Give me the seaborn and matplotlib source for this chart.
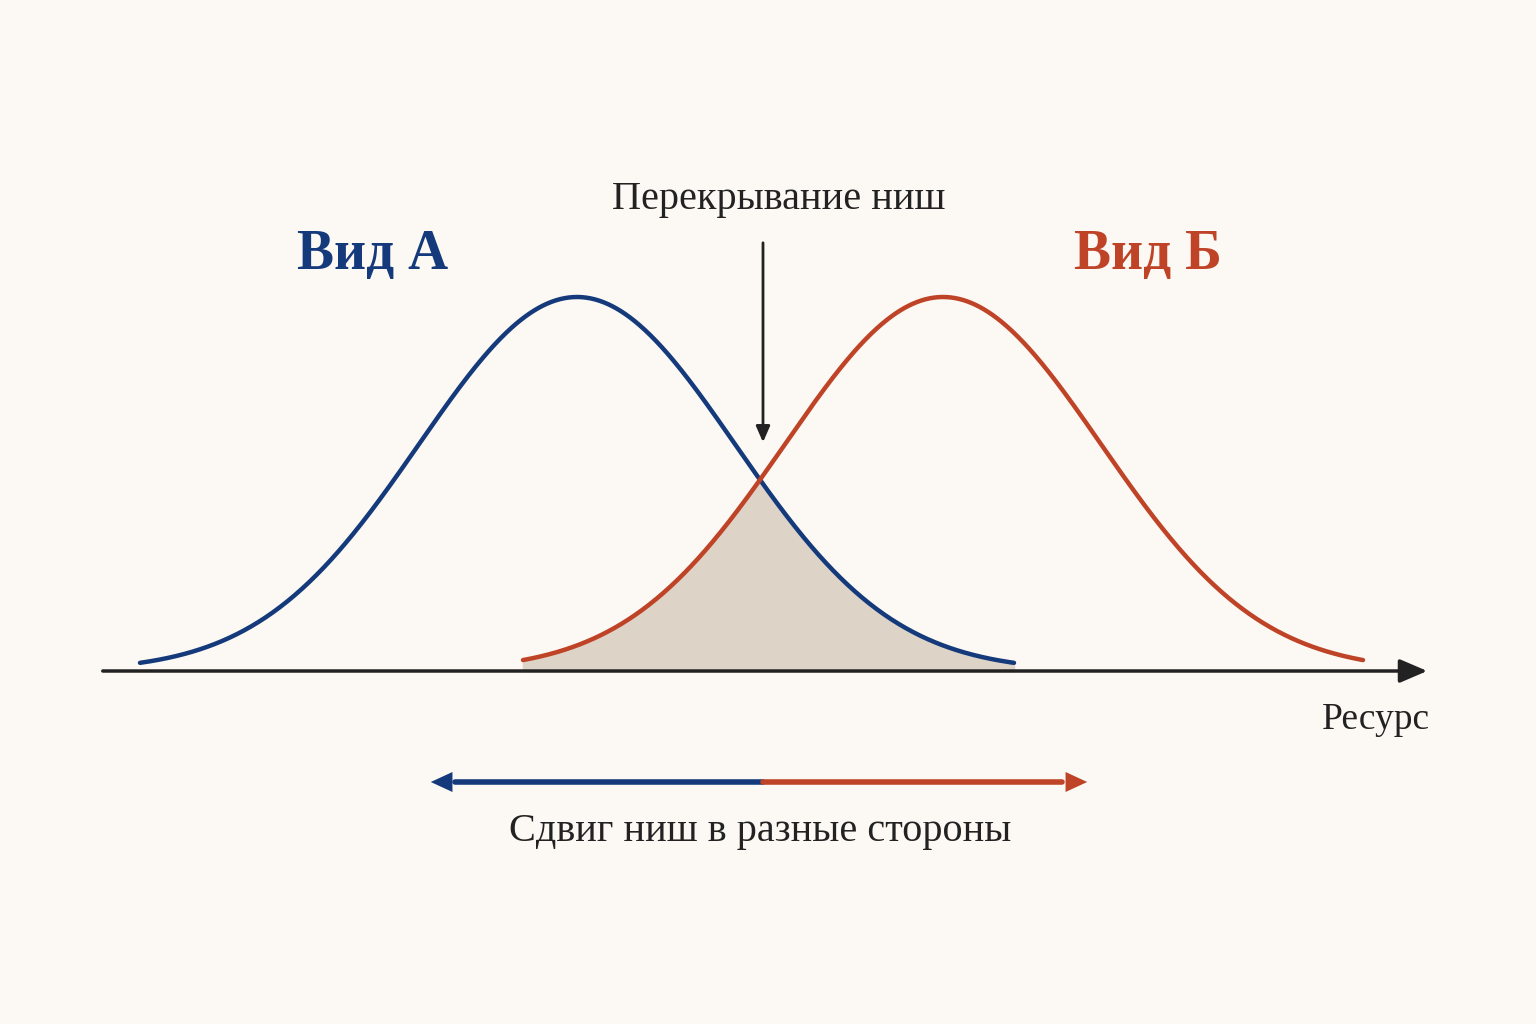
import numpy as np
import matplotlib
matplotlib.use("Agg")
import matplotlib.pyplot as plt
import seaborn as sns
import pandas as pd

sns.set_theme(style="white")
plt.rcParams['font.family'] = ['Liberation Serif', 'DejaVu Serif']

# Niche parameters (in pixel-like resource units)
species = ["Вид А", "Вид Б"]
centers = [577, 943]
sigmas = [158, 158]
peak_heights = [374, 374]
half_spans = [437, 420]
colors = ["#143a7c", "#bf4327"]
baseline = 671
bg = "#fcf8f3"

fig = plt.figure(figsize=(15.36, 10.24), dpi=100, facecolor=bg)
ax = fig.add_axes([0, 0, 1, 1])
ax.set_facecolor(bg)
ax.set_xlim(0, 1536)
ax.set_ylim(1024, 0)
ax.axis("off")

curves = []
for name, c, s, h, hs, col in zip(species, centers, sigmas, peak_heights, half_spans, colors):
    x = np.linspace(c - hs, c + hs, 600)
    y = baseline - h * np.exp(-(x - c) ** 2 / (2 * s ** 2))
    curves.append((x, y))
    sns.lineplot(x=x, y=y, ax=ax, color=col, lw=3.2, sort=False, estimator=None)

# overlap
xs = np.linspace(curves[1][0][0], curves[0][0][-1], 600)
ya = np.interp(xs, curves[0][0], curves[0][1])
yb = np.interp(xs, curves[1][0], curves[1][1])
ax.fill_between(xs, baseline, np.maximum(ya, yb), color="#ddd3c7", zorder=1)

# axis
ax.annotate("", xy=(1430, baseline), xytext=(100, baseline),
            arrowprops=dict(arrowstyle="-|>,head_length=1.4,head_width=0.6", color="#222222", lw=2.5))
ax.text(1430, 720, "Ресурс", ha="right", va="center", fontsize=27, color="#222222")

ax.text(373, 255, species[0], ha="center", va="center", fontsize=40, fontweight="bold", color=colors[0])
ax.text(1148, 255, species[1], ha="center", va="center", fontsize=40, fontweight="bold", color=colors[1])

ax.text(779, 200, "Перекрывание ниш", ha="center", va="center", fontsize=29, color="#222222")
ax.annotate("", xy=(763, 445), xytext=(763, 240),
            arrowprops=dict(arrowstyle="-|>,head_length=0.8,head_width=0.35", color="#222222", lw=2))

# divergence arrow
ax.plot([455, 763], [782, 782], color=colors[0], lw=4)
ax.plot([763, 1062], [782, 782], color=colors[1], lw=4)
ax.annotate("", xy=(428, 782), xytext=(470, 782),
            arrowprops=dict(arrowstyle="-|>,head_length=1.3,head_width=0.6", color=colors[0], lw=0))
ax.annotate("", xy=(1090, 782), xytext=(1048, 782),
            arrowprops=dict(arrowstyle="-|>,head_length=1.3,head_width=0.6", color=colors[1], lw=0))
ax.text(760, 832, "Сдвиг ниш в разные стороны", ha="center", va="center", fontsize=29, color="#222222")

fig.savefig("out.png", dpi=100, facecolor=bg)
